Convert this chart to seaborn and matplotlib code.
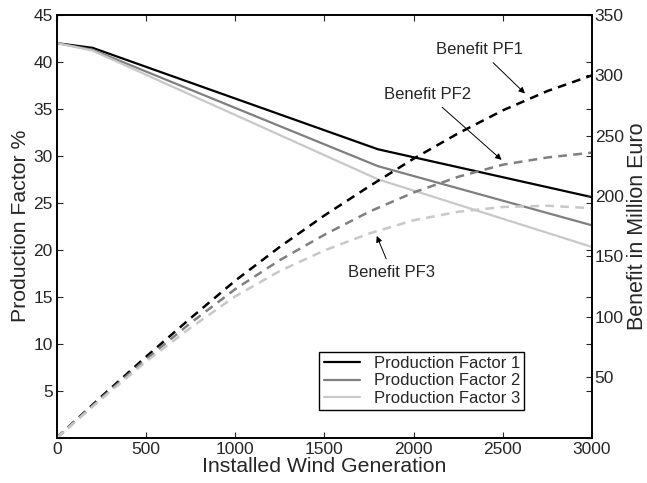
import matplotlib
matplotlib.use('Agg')
import matplotlib.pyplot as plt
import seaborn as sns
import numpy as np

# production factor (left axis, %)
pf_x = [0, 200, 1800, 3000]
pf1 = [42.0, 41.5, 30.7, 25.6]
pf2 = [42.0, 41.3, 28.9, 22.6]
pf3 = [42.0, 41.2, 27.5, 20.3]

# benefit (right axis, million euro)
ben_x = [0, 250, 500, 750, 1000, 1250, 1500, 1750, 2000, 2250, 2500, 2750, 3000]
ben1 = [0, 34, 67, 99, 130, 158, 184, 208, 231, 252, 271, 287, 300]
ben2 = [0, 33, 65, 95, 123, 147, 168, 187, 203, 216, 226, 232, 236]
ben3 = [0, 32, 63, 91, 117, 138, 155, 169, 180, 187, 191, 192, 190]

pf_labels = ['Production Factor 1', 'Production Factor 2', 'Production Factor 3']
greys = ['#000000', '#7f7f7f', '#c8c8c8']

sns.set_style("ticks")
plt.rcParams['font.family'] = ['Liberation Sans', 'DejaVu Sans']
plt.rcParams['xtick.direction'] = 'in'
plt.rcParams['ytick.direction'] = 'in'

fig = plt.figure(figsize=(6.47, 4.83), dpi=100)
ax = fig.add_axes([0.088, 0.094, 0.827, 0.875])
ax2 = ax.twinx()

for ys, lab, c in zip([pf1, pf2, pf3], pf_labels, greys):
    sns.lineplot(x=pf_x, y=ys, color=c, lw=1.6, ax=ax, label=lab)

for ys, c in zip([ben1, ben2, ben3], greys):
    sns.lineplot(x=ben_x, y=ys, color=c, lw=1.8, ax=ax2, dashes=False,
                 linestyle=(0, (3.5, 2.5)))

ax.set_xlim(0, 3000)
ax.set_ylim(0, 45)
ax2.set_ylim(0, 350)
ax.set_xticks(np.arange(0, 3001, 500))
ax.set_yticks(np.arange(0, 46, 5))
ax.set_yticklabels([''] + [str(v) for v in range(5, 46, 5)])
ax2.set_yticks(np.arange(0, 351, 50))
ax2.set_yticklabels([''] + [str(v) for v in range(50, 351, 50)])

ax.tick_params(axis='both', top=True, right=True, labelsize=12.5, length=4, width=0.8, pad=3)
ax2.tick_params(axis='y', labelsize=12.5, length=4, width=0.8, pad=2)
for a in (ax, ax2):
    for s in a.spines.values():
        s.set_linewidth(1.2)
        s.set_color('black')

ax.set_xlabel('Installed Wind Generation', fontsize=15.3, labelpad=0)
ax.set_ylabel('Production Factor %', fontsize=15.3, labelpad=2)
ax2.set_ylabel('Benefit in Million Euro', fontsize=15.5, labelpad=2)

arrow = dict(arrowstyle='-|>', color='black', lw=0.7, mutation_scale=9, shrinkA=2, shrinkB=0)
ax2.annotate('Benefit PF1', xy=(2624, 285), xytext=(2372, 321), fontsize=12,
             ha='center', va='center', arrowprops=arrow)
ax2.annotate('Benefit PF2', xy=(2493, 230), xytext=(2080, 284), fontsize=12,
             ha='center', va='center', arrowprops=arrow)
ax2.annotate('Benefit PF3', xy=(1793, 167), xytext=(1877, 137), fontsize=12,
             ha='center', va='center', arrowprops=arrow)

handles, labels = ax.get_legend_handles_labels()
leg = ax.legend(handles, labels, loc='lower right', bbox_to_anchor=(0.873, 0.065),
                fontsize=12, frameon=True, fancybox=False, framealpha=1,
                edgecolor='black', handlelength=2.2, labelspacing=0.15,
                borderpad=0.25, handletextpad=0.8, borderaxespad=0)
leg.get_frame().set_linewidth(1.0)

fig.savefig('out.png', dpi=100)
